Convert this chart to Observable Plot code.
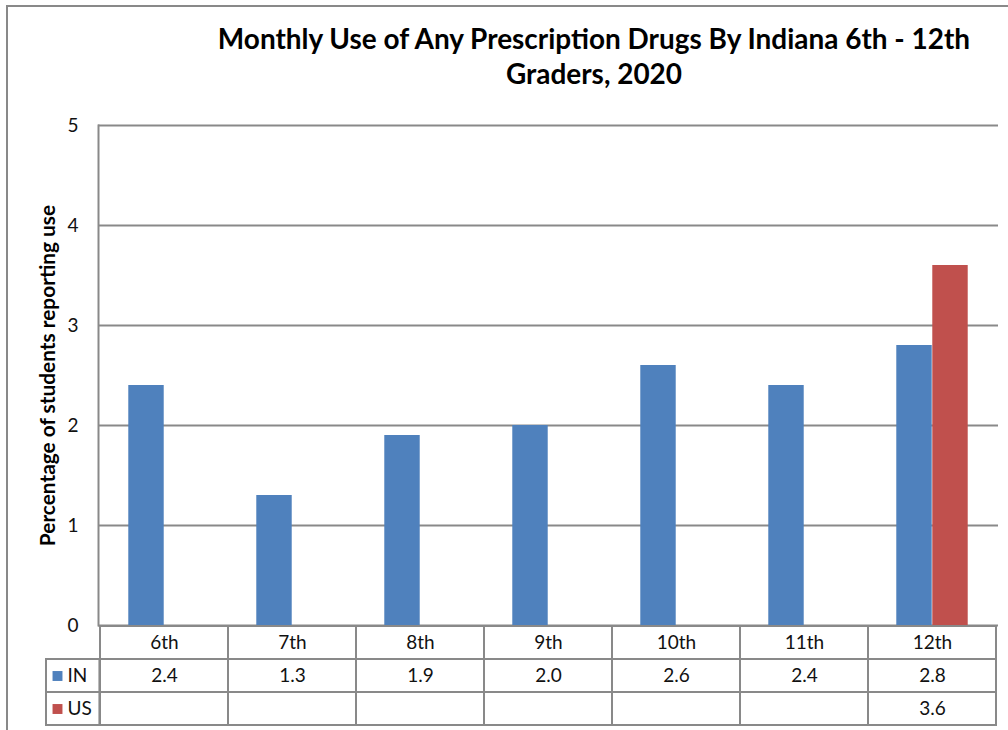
<!DOCTYPE html>
<html>
<head>
<meta charset="utf-8">
<script src="https://cdn.jsdelivr.net/npm/d3@7"></script>
<script src="https://cdn.jsdelivr.net/npm/@observablehq/plot@0.6"></script>
<style>
  html, body { margin: 0; padding: 0; background: white; overflow: hidden; }
  body { width: 1008px; height: 730px; position: relative; font-family: Lato, "Open Sans", sans-serif; }
  #frame { position: absolute; left: 6px; top: 5px; width: 1100px; height: 800px; border: 2px solid #898989; box-sizing: border-box; }
  #title { position: absolute; left: 0; width: 1188px; top: 21px; text-align: center; font-weight: bold; color: #000; white-space: nowrap; font-family: Lato, sans-serif; }
  #chart { position: absolute; left: 0; top: 0; }
  #table { position: absolute; left: 0; top: 623px; }
</style>
</head>
<body>
<div id="frame"></div>
<div id="chart"></div>
<div id="table"></div>
<div id="title"><div id="t1"></div><div id="t2"></div></div>
<script>
const titleLines = ["Monthly Use of Any Prescription Drugs By Indiana 6th - 12th", "Graders, 2020"];
const yLabel = "Percentage of students reporting use";
const grades = ["6th", "7th", "8th", "9th", "10th", "11th", "12th"];
const seriesNames = ["IN", "US"];
const inValues = [2.4, 1.3, 1.9, 2.0, 2.6, 2.4, 2.8];
const usValues = [null, null, null, null, null, null, 3.6];
const yTicks = [0, 1, 2, 3, 4, 5];
const colors = ["#4F81BD", "#C0504D"];

// fit font size to a target text width
function fitSize(text, weight, family, target) {
  const ctx = document.createElement("canvas").getContext("2d");
  ctx.font = `${weight} 100px ${family}`;
  return 100 * target / ctx.measureText(text).width;
}

const titleSize = fitSize(titleLines[0], "bold", "Lato", 756);
const titleEl = document.getElementById("title");
titleEl.style.fontSize = titleSize + "px";
titleEl.style.lineHeight = "35px";
document.getElementById("t1").textContent = titleLines[0];
document.getElementById("t2").textContent = titleLines[1];

const labelSize = fitSize(yLabel, "bold", "Lato", 342);

const inData = grades.map((g, i) => ({grade: g, value: inValues[i]}));
const usData = grades.map((g, i) => ({grade: g, value: usValues[i]})).filter(d => d.value != null);

const W = 1008, ML = 98, MR = 10;
const band = (W - ML - MR) / grades.length;
const barW = 36;
const outer = band / 2 - barW;
const gray = "#898989";
const font = "Lato, 'Open Sans', sans-serif";
const fs = 19;

const chart = Plot.plot({
  width: W,
  height: 640,
  marginTop: 125,
  marginBottom: 15,
  marginLeft: ML,
  marginRight: MR,
  style: {background: "transparent", fontFamily: font, overflow: "visible"},
  x: {domain: grades, padding: 0, axis: null},
  y: {domain: [0, 5], axis: null},
  marks: [
    Plot.gridY(yTicks, {stroke: gray, strokeOpacity: 1, strokeWidth: 2}),
    Plot.barY(inData, {x: "grade", y: "value", fill: colors[0], insetLeft: outer, insetRight: band - outer - barW}),
    Plot.barY(usData, {x: "grade", y: "value", fill: colors[1], insetLeft: band - outer - barW, insetRight: outer}),
    Plot.frame({anchor: "left", stroke: gray, strokeWidth: 2}),
    Plot.axisY(yTicks, {tickSize: 0, tickPadding: 20, fontSize: fs, fill: "#111", label: null, tickFormat: d => String(d)}),
    Plot.text([yLabel], {frameAnchor: "left", dx: -50, rotate: -90, textAnchor: "middle", fontSize: labelSize, fontWeight: "bold", fill: "#000"})
  ]
});
document.getElementById("chart").appendChild(chart);

const rows = ["grade", ...seriesNames];
const cells = [];
for (const r of rows) for (const g of grades) cells.push({row: r, grade: g});
const textCells = [];
grades.forEach((g, i) => {
  textCells.push({row: "grade", grade: g, label: g});
  textCells.push({row: "IN", grade: g, label: inValues[i] == null ? "" : inValues[i].toFixed(1)});
  textCells.push({row: "US", grade: g, label: usValues[i] == null ? "" : usValues[i].toFixed(1)});
});
const keyW = 54;

const table = Plot.plot({
  width: W,
  height: 104,
  marginTop: 2,
  marginBottom: 2,
  marginLeft: ML,
  marginRight: MR,
  style: {background: "transparent", fontFamily: font, overflow: "visible"},
  x: {domain: grades, padding: 0, axis: null},
  y: {domain: rows, padding: 0, axis: null},
  marks: [
    Plot.cell(cells, {x: "grade", y: "row", fill: "none", stroke: gray, strokeWidth: 2}),
    Plot.cell(seriesNames, {x: () => grades[0], y: d => d, dx: -band, insetLeft: band - keyW, fill: "none", stroke: gray, strokeWidth: 2}),
    Plot.dot(seriesNames, {y: d => d, frameAnchor: "left", dx: -41, symbol: "square", r: 5.6, fill: (d, i) => colors[i], stroke: null}),
    Plot.text(seriesNames, {y: d => d, frameAnchor: "left", dx: -31, textAnchor: "start", fontSize: fs, fill: "#111"}),
    Plot.text(textCells, {x: "grade", y: "row", text: "label", fontSize: fs, fill: "#111"})
  ]
});
document.getElementById("table").appendChild(table);
</script>
</body>
</html>
